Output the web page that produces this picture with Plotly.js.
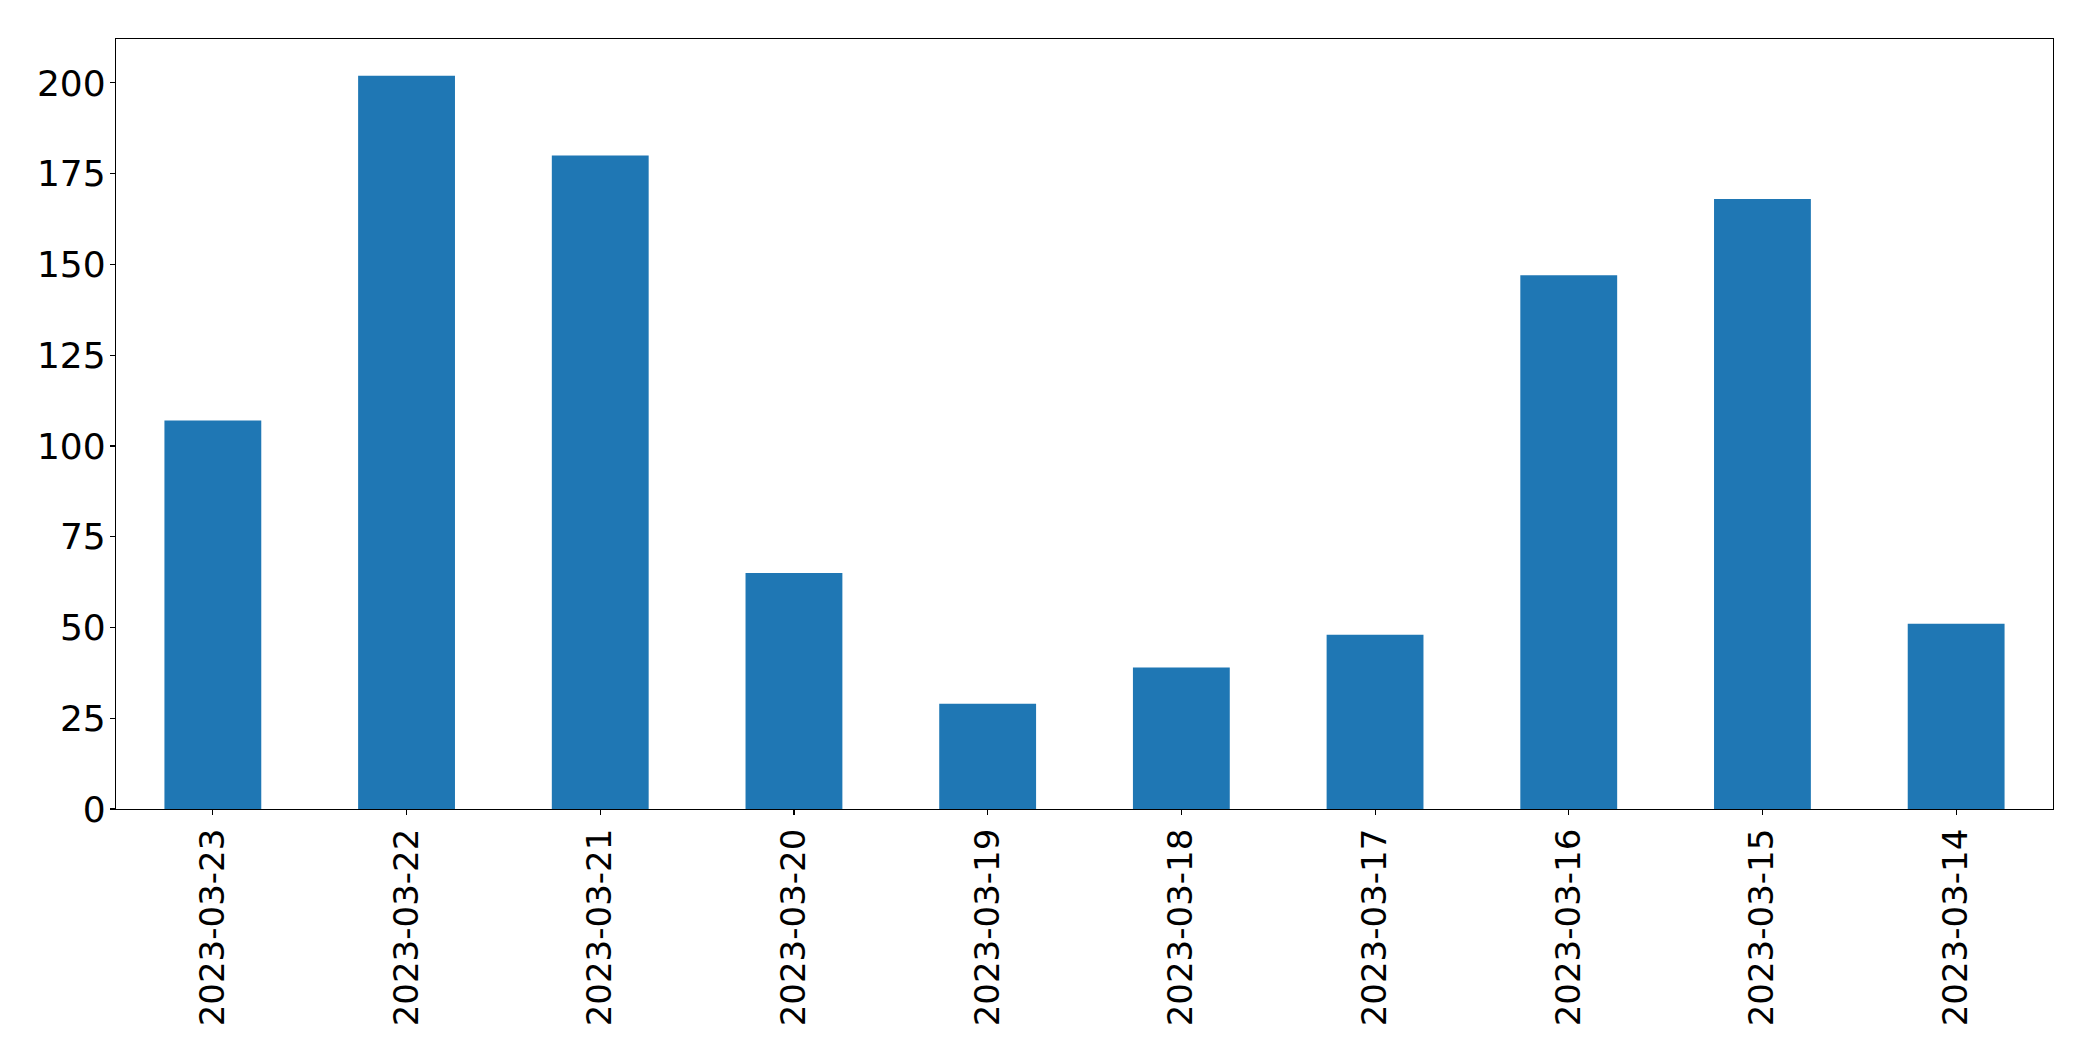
<!DOCTYPE html>
<html>
<head>
<meta charset="utf-8">
<script src="https://cdn.plot.ly/plotly-3.0.1.min.js"></script>
<style>
  html, body { margin: 0; padding: 0; background: #fff; }
  #chart { width: 2093px; height: 1061px; }
</style>
</head>
<body>
<div id="chart"></div>
<script>
const dates = ["2023-03-23", "2023-03-22", "2023-03-21", "2023-03-20", "2023-03-19",
               "2023-03-18", "2023-03-17", "2023-03-16", "2023-03-15", "2023-03-14"];
const counts = [107, 202, 180, 65, 29, 39, 48, 147, 168, 51];
const yTicks = [0, 25, 50, 75, 100, 125, 150, 175, 200];

const maxVal = Math.max(...counts);

const trace = {
  type: "bar",
  x: dates,
  y: counts,
  width: 0.5,
  marker: { color: "#1f77b4", line: { width: 0 } },
  hoverinfo: "x+y"
};

const layout = {
  width: 2093,
  height: 1061,
  margin: { l: 116, r: 40, t: 39, b: 252, pad: 0 },
  paper_bgcolor: "#ffffff",
  plot_bgcolor: "#ffffff",
  showlegend: false,
  font: { family: "DejaVu Sans", size: 34, color: "#000000" },
  xaxis: {
    type: "category",
    range: [-0.5, dates.length - 0.5],
    tickangle: -90,
    ticks: "outside",
    ticklen: 5,
    tickwidth: 1.1,
    tickcolor: "#000000",
    showline: true,
    linecolor: "#000000",
    linewidth: 1.1,
    mirror: true,
    showgrid: false,
    zeroline: false,
    tickfont: { family: "DejaVu Sans", size: 34, color: "#000000" }
  },
  yaxis: {
    range: [0, maxVal * 1.05],
    tickmode: "array",
    tickvals: yTicks,
    ticktext: yTicks.map(String),
    ticks: "outside",
    ticklen: 5,
    tickwidth: 1.1,
    tickcolor: "#000000",
    ticklabelstandoff: -3,
    showline: true,
    linecolor: "#000000",
    linewidth: 1.1,
    mirror: true,
    showgrid: false,
    zeroline: false,
    tickfont: { family: "DejaVu Sans", size: 36, color: "#000000" }
  }
};

Plotly.newPlot("chart", [trace], layout, { displayModeBar: false, staticPlot: true });
</script>
</body>
</html>
